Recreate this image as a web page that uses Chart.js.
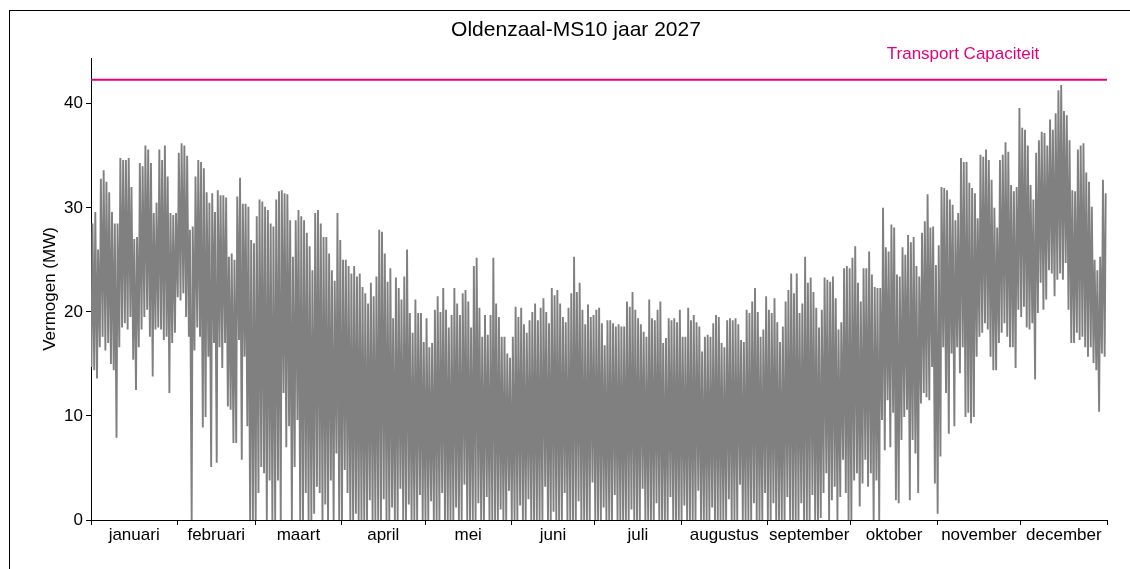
<!DOCTYPE html>
<html>
<head>
<meta charset="utf-8">
<script src="https://cdn.jsdelivr.net/npm/chart.js@4.4.1/dist/chart.umd.min.js"></script>
<style>
html, body { margin: 0; padding: 0; background: #fff; }
#wrap { position: relative; width: 1130px; height: 569px; overflow: hidden; }
#frame { position: absolute; left: 9px; top: 10px; width: 1140px; height: 600px; border: 1.5px solid #000; box-sizing: border-box; }
#chart { position: absolute; left: 0; top: 0; }
</style>
</head>
<body>
<div id="wrap">
	<div id="frame"></div>
	<canvas id="chart" width="1130" height="569"></canvas>
</div>
<script>
var chartTitle = 'Oldenzaal-MS10 jaar 2027';
var capacityLabel = 'Transport Capaciteit';
var capacityMW = 42.3;

var monthNames = ['januari', 'februari', 'maart', 'april', 'mei', 'juni', 'juli',
	'augustus', 'september', 'oktober', 'november', 'december'];
var monthDays = [31, 28, 31, 30, 31, 30, 31, 31, 30, 31, 30, 31];
var yTicks = [0, 10, 20, 30, 40];

// daily peak load (MW), one value per day, read month by month
var peakMW = [
	28.5,29.6,26,32.8,33.6,32.5,31.5,29.6,28.5,28.5,34.8,34.6,34.6,34.8,32,27,27.2,34.3,34,36,35.6,34.3,29.5,30.5,35.6,34.6,36,33,29.5,29.3,29.5,
	35.3,36.2,36,35,27.9,28.2,33,34.6,34.4,33.8,31.5,30.5,31.4,29.6,31.7,31.2,31.2,31,25.3,25.6,25,31.1,32.9,30.4,30.4,30.1,26.9,26.6,
	29.2,30.8,30.6,30.1,29.8,28.5,28.2,30.8,31.6,31.7,31.4,31.3,28.8,25.3,28.8,29.8,29.2,28.8,27.6,26.3,24,29.5,29.8,28.5,27.2,27.2,25.6,24,23,29.5,26.9,
	25,25,24.4,23.7,24.4,23.4,23.7,22.4,21.8,20.8,22.8,21.5,23.4,27.9,27.7,25.6,22.9,24.2,19.4,23.3,22.3,21.2,23.4,26,19.9,18,21.2,19.9,19.9,17.1,
	19.4,16.6,17,20.2,21.5,20,22.3,20.2,18.5,19.7,22.3,20.8,19.7,21.8,22.1,21,18.5,24.4,25.2,20.4,17.6,19.7,17.8,19.7,25.2,20.8,19.5,17.6,17.6,16,15.6,
	17.6,20.5,19.5,20.4,18.8,18,19.2,20,20.8,19.2,20.4,21.3,20,18.9,22.3,21.6,22.1,20.8,19.5,19,20.4,21.8,25.3,21.9,22.8,20.2,18.8,20.7,19.5,19.7,
	20.2,20.4,18.9,16.8,19.2,19.2,18.9,18.6,18.8,18.6,18.6,21,20.5,21.9,20.2,19.4,18.8,18.1,17.6,21.2,19.4,19.2,20.2,21,17,17.5,19.4,19.2,19.4,19,20.2,
	17.6,17.6,20.4,19.2,19.7,19,18.6,16.2,17.6,17.8,17.6,18.9,19.7,19.5,17,16.6,19.2,19.4,19.2,19.4,18.8,17.3,17.1,20.2,19.9,21,22.3,20,17.6,18.3,21.5,
	20.2,19.9,21.3,19,17.1,18.6,21,22.1,23.7,21.8,23.7,19.9,20.8,25.3,22.8,23.3,21.9,20.4,18.5,20.2,23.3,23.1,22.9,23.4,21.3,18.3,19,24.2,24.4,24.2,
	25.2,26.3,22.8,21,24.2,24.2,25.8,23.6,22.4,22.3,22.3,30,26.2,25.8,28.4,28.1,23.6,23.4,26.2,25.5,27.4,26.7,27.2,24.4,23.4,27.6,28.7,31.3,28.1,28.2,24.5,
	26.4,32,31.9,31.7,30.8,30.3,28.8,29.5,34.8,34.4,34.4,32.4,31.9,31.4,29,35.1,34.9,35.6,34.6,32.7,30,28.1,34.6,35.1,36.3,35.4,32.2,31.6,32,39.6,
	37.7,37.5,36,32.2,30.8,35.3,36.5,37.3,37.2,36,38.5,37.5,39.1,41.3,41.8,39.3,38.9,36.5,31.7,31.6,35.6,36,36.2,33.4,32.5,30.1,25,24,25.3,32.7,31.4
];

// daily minimum load (MW)
var lowMW = [
	14.7,14.4,13.6,16.6,17.6,16.3,17,15,14.4,7.9,16.6,18.5,18.9,18.3,19.5,15.4,12.5,16.6,18.3,19.5,20.2,17.6,13.8,18.3,18.5,18.3,17.3,17.6,12.2,17,18,
	21.4,21.1,21.8,19.5,17.6,0,16.3,18.5,17.6,8.9,9.9,15.7,5.1,17,5.5,16.6,14.6,17,10.9,10.6,7.4,7.4,17.3,5.8,15.7,9,0,0,
	0,2.6,5.1,4.5,0,3.8,0,0,3.8,0,12.2,7,9,0,5.1,9.6,0,0,2.6,0,0,0.6,3.2,2.6,0,1.5,0,3.8,0,6.4,0,
	0,4.8,2.6,0,0,0.6,0,0,0,0,1.9,0,0,0,0,2,0,0,1.2,0,0,3,0,0,1.5,0,0,0,2.4,0,
	0,0,1.8,0,0,0,2.6,0,0,0,0,1.2,0,0,3.4,0,0,0,0,1.6,0,0,2.2,0,0,0,0,1,0,0,2.8,
	0,0,0,1.4,0,0,2,0,0,0,0,0,3.2,0,0,0.8,0,0,0,2.6,0,0,0,0,1.8,0,0,0,0,3.6,
	0,0,0,1.2,0,0,0,2.4,0,0,0,0,0,1,0,0,0,3,0,0,0,0,1.6,0,0,0,0,2.2,0,0,0,
	0,1.4,0,0,0,0,2.8,0,0,0,0,1.2,0,0,0,0,0,2,0,0,0,3.4,0,0,0,0,1.6,0,0,0,2.6,
	0,0,1.6,0,0,0,0,2.2,0,0,0,0,1.6,0,0,0,2.4,0,0,0.2,2.6,4.5,0,1.9,3.2,0,2.2,5.8,2.6,0,
	0,3.8,4.5,1.3,3.5,5.8,3.2,4.5,0,3.8,0,9.6,6.7,11.5,7,10.3,1.9,1.6,7.7,9.9,10.6,1.9,7.7,6.4,2.6,11.2,12.2,11.8,11.5,14.7,3.5,
	0.6,6.1,16.6,12.2,8.3,16,9,16.6,14.1,16.6,9.9,10.3,9.3,9.9,15.7,17.6,18,18.9,18.3,15.7,14.4,14.4,17,18,18.9,17.6,16.6,16.6,14.6,20.2,
	19.5,20.5,18.5,18.3,18.9,13.5,19.9,22.8,20.2,21.2,24,23.7,21.5,23.1,23.7,23.1,24.7,20.2,17,17,18,17.3,17.6,16.6,15.7,16.6,15.1,14.4,10.4,16,15.7
];

var fontFamily = '"Liberation Sans", Arial, sans-serif';
var grey = '#808080';
var magenta = '#e6007e';

// hour axis: night minimum then daytime peak for every day
var loadPoints = [];
for (var d = 0; d < peakMW.length; d++) {
	loadPoints.push({ x: d * 24 + 4, y: lowMW[d] });
	loadPoints.push({ x: d * 24 + 13, y: peakMW[d] });
}
var yearHours = 24 * peakMW.length;

// month boundaries (tick marks) interleaved with month middles (labels)
var xTicks = [0];
var hour = 0;
for (var m = 0; m < monthDays.length; m++) {
	xTicks.push(hour + monthDays[m] * 12);
	hour += monthDays[m] * 24;
	xTicks.push(hour);
}

var labelsPlugin = {
	id: 'labels',
	afterDraw: function (chart) {
		var ctx = chart.ctx;
		ctx.save();
		ctx.fillStyle = '#000';
		ctx.font = '21px ' + fontFamily;
		ctx.textAlign = 'center';
		ctx.textBaseline = 'middle';
		ctx.fillText(chartTitle, 576, 30);
		ctx.fillStyle = magenta;
		ctx.font = '17px ' + fontFamily;
		ctx.fillText(capacityLabel, 963, chart.scales.y.getPixelForValue(capacityMW) - 26);
		ctx.restore();
	}
};

new Chart(document.getElementById('chart'), {
	type: 'line',
	data: {
		datasets: [{
			data: loadPoints,
			borderColor: grey,
			borderWidth: 1.9,
			pointRadius: 0,
			tension: 0
		}, {
			data: [{ x: 0, y: capacityMW }, { x: yearHours, y: capacityMW }],
			borderColor: magenta,
			borderWidth: 2,
			pointRadius: 0
		}]
	},
	options: {
		responsive: false,
		animation: false,
		parsing: false,
		normalized: true,
		layout: { padding: { top: 58, right: 23, left: 0, bottom: 0 } },
		plugins: {
			legend: { display: false },
			tooltip: { enabled: false }
		},
		scales: {
			x: {
				type: 'linear',
				min: 0,
				max: yearHours,
				afterBuildTicks: function (scale) {
					scale.ticks = xTicks.map(function (v) { return { value: v }; });
				},
				afterFit: function (scale) { scale.height = 49; },
				grid: {
					drawOnChartArea: false,
					tickLength: 5,
					tickColor: function (ctx) { return ctx.index % 2 === 0 ? '#000' : 'rgba(0,0,0,0)'; }
				},
				border: { color: '#000', width: 1 },
				ticks: {
					autoSkip: false,
					maxRotation: 0,
					padding: 0,
					color: '#000',
					font: { family: fontFamily, size: 17 },
					callback: function (value, index) {
						return index % 2 === 1 ? monthNames[(index - 1) / 2] : '';
					}
				}
			},
			y: {
				min: 0,
				max: 44.4,
				afterBuildTicks: function (scale) {
					scale.ticks = yTicks.map(function (v) { return { value: v }; });
				},
				afterFit: function (scale) { scale.width = 91; },
				grid: { drawOnChartArea: false, tickLength: 5, tickColor: '#000' },
				border: { color: '#000', width: 1 },
				ticks: {
					color: '#000',
					padding: 3,
					font: { family: fontFamily, size: 17 }
				},
				title: {
					display: true,
					text: 'Vermogen (MW)',
					color: '#000',
					font: { family: fontFamily, size: 17 },
					padding: { top: 40, bottom: 0 }
				}
			}
		}
	},
	plugins: [labelsPlugin]
});
</script>
</body>
</html>
